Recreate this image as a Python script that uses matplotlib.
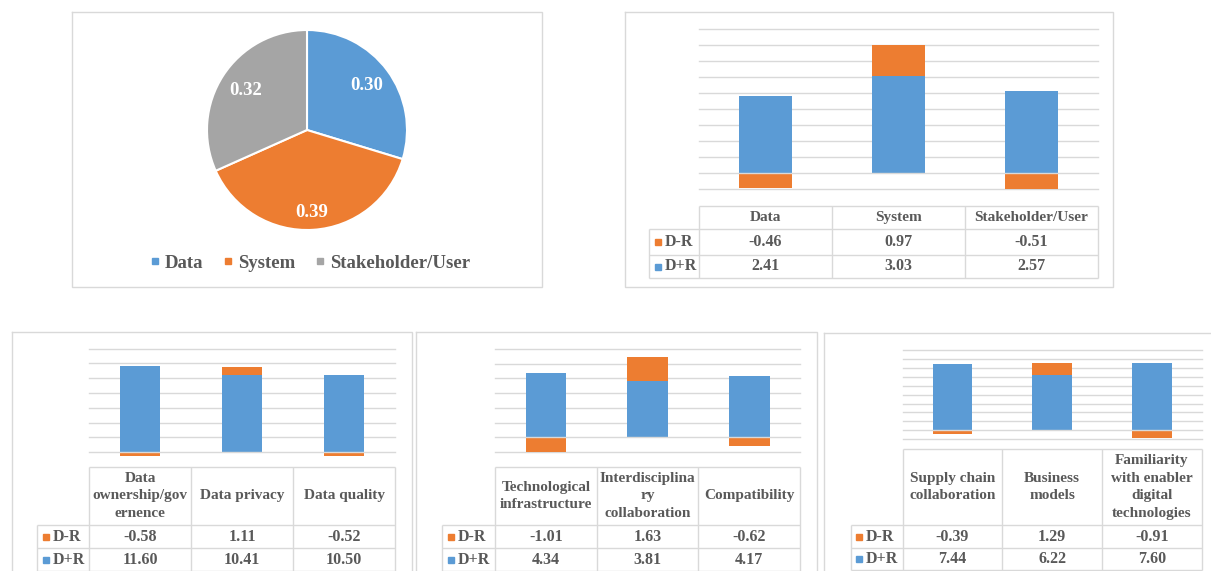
import matplotlib
matplotlib.use("Agg")
import matplotlib.pyplot as plt
from matplotlib.lines import Line2D
import numpy as np

W, H = 1211, 571

BLUE = "#5B9BD5"
ORANGE = "#ED7D31"
GRAY = "#A5A5A5"
TEXT = "#595959"
GRID = "#D9D9D9"
SERIF = ["Liberation Serif", "DejaVu Serif"]

# Weight of each dimension
dimensions = ["Data", "System", "Stakeholder/User"]
dimension_weights = [0.30, 0.39, 0.32]

# Dimension level: prominence (D+R) and relation (D-R)
dim_minus = [-0.46, 0.97, -0.51]
dim_plus = [2.41, 3.03, 2.57]

# Factors of the Data dimension
data_factors = ["Data\nownership/gov\nernence", "Data privacy", "Data quality"]
data_minus = [-0.58, 1.11, -0.52]
data_plus = [11.60, 10.41, 10.50]

# Factors of the System dimension
system_factors = ["Technological\ninfrastructure", "Interdisciplina\nry\ncollaboration", "Compatibility"]
system_minus = [-1.01, 1.63, -0.62]
system_plus = [4.34, 3.81, 4.17]

# Factors of the Stakeholder/User dimension
stake_factors = ["Supply chain\ncollaboration", "Business\nmodels",
                 "Familiarity\nwith enabler\ndigital\ntechnologies"]
stake_minus = [-0.39, 1.29, -0.91]
stake_plus = [7.44, 6.22, 7.60]

row_names = ["D-R", "D+R"]

fig = plt.figure(figsize=(W / 100, H / 100), dpi=100)
fig.patch.set_facecolor("white")

# overlay in pixel coordinates for frames and tables
ov = fig.add_axes([0, 0, 1, 1], zorder=0)
ov.set_xlim(0, W)
ov.set_ylim(H, 0)
ov.axis("off")


def px_axes(left, top, right, bottom, **kw):
    ax = fig.add_axes([left / W, 1 - bottom / H, (right - left) / W, (bottom - top) / H], **kw)
    ax.patch.set_alpha(0)
    return ax


def frame(left, top, right, bottom):
    ov.plot([left, right, right, left, left], [top, top, bottom, bottom, top],
            color=GRID, lw=1.0, solid_joinstyle="miter")


def stacked(ax, plus, minus, ylim, grid):
    plus = np.asarray(plus)
    minus = np.asarray(minus)
    x = np.arange(len(plus))
    ax.bar(x, plus, width=0.4, color=BLUE, zorder=2)
    bottoms = np.where(minus > 0, plus, 0)
    ax.bar(x, minus, bottom=bottoms, width=0.4, color=ORANGE, zorder=2)
    ax.set_xlim(-0.5, len(plus) - 0.5)
    ax.set_ylim(*ylim)
    for v in grid:
        ax.axhline(v, color=GRID, lw=1.0, zorder=3 if v == 0 else 1, clip_on=False)
    ax.axis("off")


def table(x_edges, label_left, y_edges, headers, minus, plus, hsize=11, vsize=11.5):
    lk = dict(color=GRID, lw=1.0, solid_capstyle="butt")
    ov.plot([x_edges[0], x_edges[-1]], [y_edges[0]] * 2, **lk)
    for y in y_edges[1:]:
        ov.plot([label_left, x_edges[-1]], [y, y], **lk)
    for x in x_edges:
        ov.plot([x, x], [y_edges[0], y_edges[-1]], **lk)
    ov.plot([label_left] * 2, [y_edges[1], y_edges[-1]], **lk)
    for i, h in enumerate(headers):
        ov.text((x_edges[i] + x_edges[i + 1]) / 2, (y_edges[0] + y_edges[1]) / 2, h,
                ha="center", va="center", fontsize=hsize, fontweight="bold",
                family=SERIF, color=TEXT, linespacing=1.45)
    for r, (name, vals, col) in enumerate(zip(row_names, [minus, plus], [ORANGE, BLUE])):
        yc = (y_edges[r + 1] + y_edges[r + 2]) / 2
        ov.plot([label_left + 8.5], [yc], marker="s", ms=5, color=col, mec=col, ls="none")
        ov.text(label_left + 15.5, yc, name, ha="left", va="center", fontsize=vsize,
                fontweight="bold", family=SERIF, color=TEXT)
        for i, v in enumerate(vals):
            ov.text((x_edges[i] + x_edges[i + 1]) / 2, yc, f"{v:.2f}", ha="center", va="center",
                    fontsize=vsize, fontweight="bold", family=SERIF, color=TEXT)


# ---- pie of dimension weights ----
frame(72, 12, 542, 287)
pax = px_axes(197, 20, 417, 240)
wedges, _ = pax.pie(dimension_weights, colors=[BLUE, ORANGE, GRAY], startangle=90,
                    counterclock=False, radius=1.0,
                    wedgeprops=dict(edgecolor="white", linewidth=1.5))
pax.set_xlim(-1.1, 1.1)
pax.set_ylim(-1.1, 1.1)
pax.set_aspect("equal")
label_r = [0.74, 0.83, 0.73]
for w, val, rr in zip(wedges, dimension_weights, label_r):
    ang = np.deg2rad((w.theta1 + w.theta2) / 2)
    pax.text(rr * np.cos(ang), rr * np.sin(ang), f"{val:.2f}", ha="center", va="center",
             fontsize=13.5, fontweight="bold", family=SERIF, color="white")
handles = [Line2D([], [], marker="s", ls="none", ms=4.3, color=c) for c in [BLUE, ORANGE, GRAY]]
fig.legend(handles, dimensions, loc="center", bbox_to_anchor=(311 / W, 1 - 263 / H), ncol=3,
           frameon=False, handlelength=0.3, handletextpad=0.38, columnspacing=1.18,
           prop=dict(family=SERIF, weight="bold", size=13.5), labelcolor=TEXT)

# ---- dimension stacked bars ----
frame(625, 12, 1113, 287)
ax1 = px_axes(699, 29, 1098, 189)
stacked(ax1, dim_plus, dim_minus, (-0.5, 4.5), np.arange(-0.5, 4.51, 0.5))
table([699, 832, 965, 1098], 649, [206, 229, 255, 278], dimensions, dim_minus, dim_plus)

# ---- Data factors ----
frame(12, 332, 412, 590)
ax2 = px_axes(89, 348.7, 395, 457.2)
stacked(ax2, data_plus, data_minus, (-0.7, 14), np.arange(0, 14.1, 2))
table([89, 191, 293, 395], 37, [466.7, 525, 548.3, 570.7], data_factors, data_minus, data_plus)

# ---- System factors ----
frame(416, 332, 817, 590)
ax3 = px_axes(495, 348.8, 800, 452)
stacked(ax3, system_plus, system_minus, (-1, 6), np.arange(-1, 6.1, 1))
table([495, 596.7, 698.3, 800], 442, [466.7, 525, 548.3, 570.7], system_factors,
      system_minus, system_plus)

# ---- Stakeholder/User factors ----
frame(824, 333, 1230, 590)
ax4 = px_axes(902.7, 350.2, 1201.7, 439.2)
stacked(ax4, stake_plus, stake_minus, (-1, 9), np.arange(-1, 9.1, 1))
table([902.7, 1002.4, 1102, 1201.7], 850.7, [449.3, 525, 548.3, 570], stake_factors,
      stake_minus, stake_plus)

fig.savefig("out.png", dpi=100, facecolor="white")
